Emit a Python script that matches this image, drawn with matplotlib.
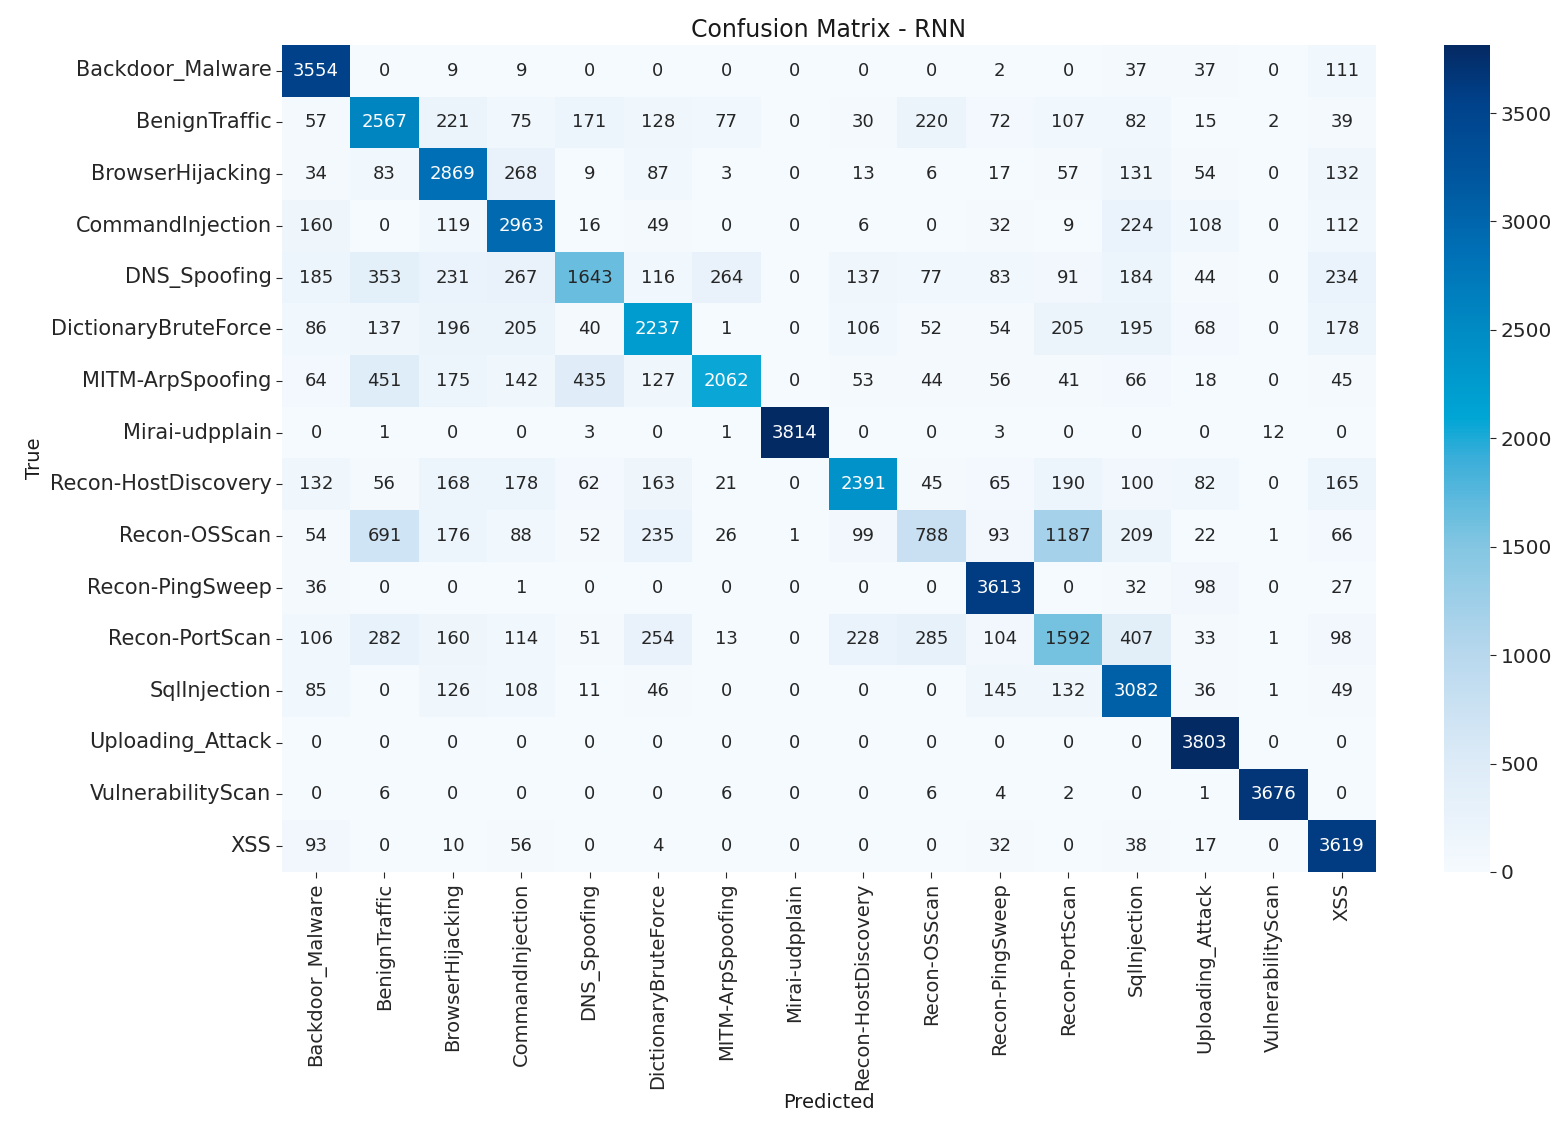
import numpy as np
import matplotlib
matplotlib.use("Agg")
import matplotlib.pyplot as plt
import seaborn as sns
from matplotlib.colors import LinearSegmentedColormap

labels = ["Backdoor_Malware", "BenignTraffic", "BrowserHijacking", "CommandInjection",
          "DNS_Spoofing", "DictionaryBruteForce", "MITM-ArpSpoofing", "Mirai-udpplain",
          "Recon-HostDiscovery", "Recon-OSScan", "Recon-PingSweep", "Recon-PortScan",
          "SqlInjection", "Uploading_Attack", "VulnerabilityScan", "XSS"]

row_backdoor = [3554, 0, 9, 9, 0, 0, 0, 0, 0, 0, 2, 0, 37, 37, 0, 111]
row_benign = [57, 2567, 221, 75, 171, 128, 77, 0, 30, 220, 72, 107, 82, 15, 2, 39]
row_browser = [34, 83, 2869, 268, 9, 87, 3, 0, 13, 6, 17, 57, 131, 54, 0, 132]
row_cmdinj = [160, 0, 119, 2963, 16, 49, 0, 0, 6, 0, 32, 9, 224, 108, 0, 112]
row_dns = [185, 353, 231, 267, 1643, 116, 264, 0, 137, 77, 83, 91, 184, 44, 0, 234]
row_dict = [86, 137, 196, 205, 40, 2237, 1, 0, 106, 52, 54, 205, 195, 68, 0, 178]
row_mitm = [64, 451, 175, 142, 435, 127, 2062, 0, 53, 44, 56, 41, 66, 18, 0, 45]
row_mirai = [0, 1, 0, 0, 3, 0, 1, 3814, 0, 0, 3, 0, 0, 0, 12, 0]
row_hostdisc = [132, 56, 168, 178, 62, 163, 21, 0, 2391, 45, 65, 190, 100, 82, 0, 165]
row_osscan = [54, 691, 176, 88, 52, 235, 26, 1, 99, 788, 93, 1187, 209, 22, 1, 66]
row_pingsweep = [36, 0, 0, 1, 0, 0, 0, 0, 0, 0, 3613, 0, 32, 98, 0, 27]
row_portscan = [106, 282, 160, 114, 51, 254, 13, 0, 228, 285, 104, 1592, 407, 33, 1, 98]
row_sqlinj = [85, 0, 126, 108, 11, 46, 0, 0, 0, 0, 145, 132, 3082, 36, 1, 49]
row_upload = [0, 0, 0, 0, 0, 0, 0, 0, 0, 0, 0, 0, 0, 3803, 0, 0]
row_vulnscan = [0, 6, 0, 0, 0, 0, 6, 0, 0, 6, 4, 2, 0, 1, 3676, 0]
row_xss = [93, 0, 10, 56, 0, 4, 0, 0, 0, 0, 32, 0, 38, 17, 0, 3619]

cm = np.array([row_backdoor, row_benign, row_browser, row_cmdinj, row_dns, row_dict,
               row_mitm, row_mirai, row_hostdisc, row_osscan, row_pingsweep, row_portscan,
               row_sqlinj, row_upload, row_vulnscan, row_xss])

cmap = LinearSegmentedColormap.from_list("cb", [
    (0.0, "#f5fafe"),
    (0.131, "#ddebf7"),
    (0.262, "#b8d8ee"),
    (0.393, "#84c6e2"),
    (0.50, "#3aaed9"),
    (0.55, "#00a6d5"),
    (0.655, "#008bc4"),
    (0.75, "#0070b6"),
    (0.85, "#00549c"),
    (0.93, "#00428c"),
    (1.0, "#042a64"),
])

fig = plt.figure(figsize=(15.68, 11.24), dpi=100)
ax = fig.add_axes([0.1798, 0.2242, 0.6977, 0.7358])
cax = fig.add_axes([0.921, 0.2242, 0.0293, 0.7358])

sns.heatmap(cm, ax=ax, cbar_ax=cax, cmap=cmap, annot=True, fmt="d",
            xticklabels=labels, yticklabels=labels,
            annot_kws={"fontsize": 13})

for t in ax.texts:
    v = int(t.get_text())
    t.set_color("white" if v >= 1800 else "#262626")

ax.set_title("Confusion Matrix - RNN", fontsize=17, color="#1a1a1a", pad=6)
ax.set_xlabel("Predicted", fontsize=14, color="#1a1a1a", labelpad=2)
ax.set_ylabel("True", fontsize=14, color="#1a1a1a", labelpad=4)
ax.tick_params(axis="x", labelsize=14, colors="#262626", length=4)
ax.tick_params(axis="y", labelsize=15, colors="#262626", length=4)
plt.setp(ax.get_xticklabels(), rotation=90)
plt.setp(ax.get_yticklabels(), rotation=0)
cax.tick_params(labelsize=14.5, colors="#262626", length=4)
cax.set_yticks([0, 500, 1000, 1500, 2000, 2500, 3000, 3500])

fig.savefig("out.png", dpi=100, facecolor="white")
